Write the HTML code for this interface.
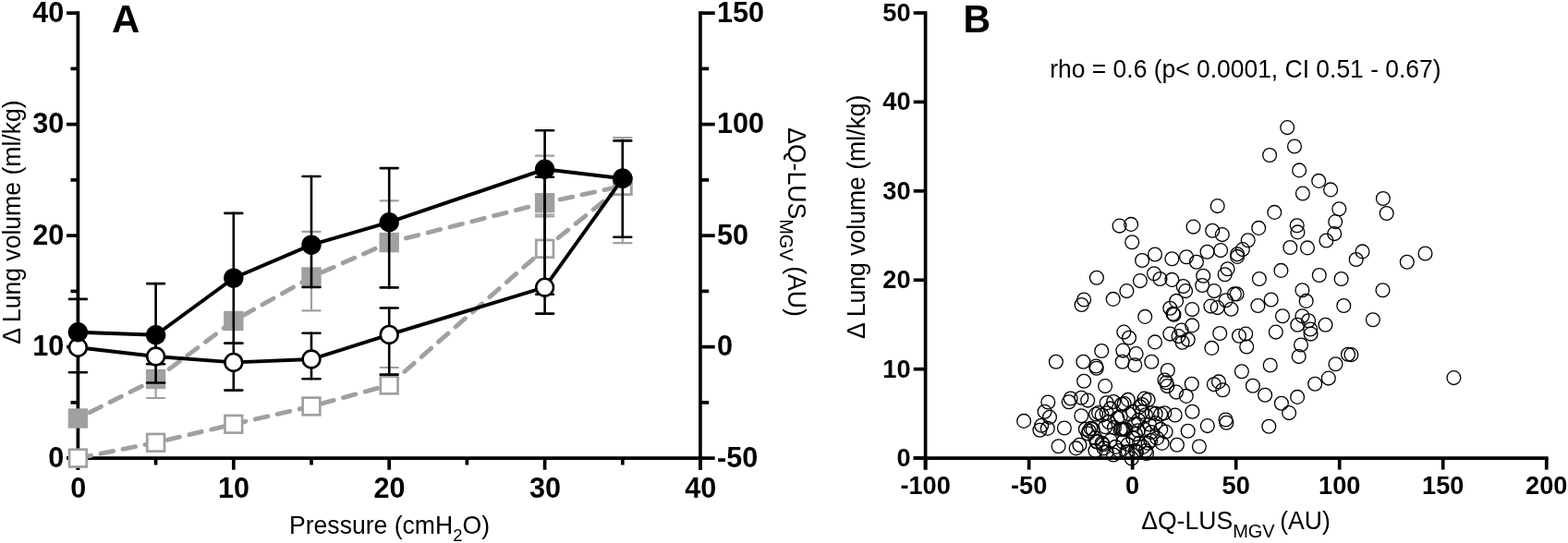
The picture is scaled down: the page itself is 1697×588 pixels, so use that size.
<!DOCTYPE html>
<html><head><meta charset="utf-8"><title>Figure</title>
<style>html,body{margin:0;padding:0;background:#fff;} svg{display:block;}</style>
</head><body>
<svg width="1697" height="588" viewBox="0 0 1697 588">
<rect width="1697" height="588" fill="#fff"/>
<g stroke="#000" stroke-width="3.7" fill="none" stroke-linecap="butt">
<line x1="84.4" y1="12.29" x2="84.4" y2="508.7"/>
<line x1="72" y1="496.1" x2="759.75" y2="496.1"/>
<line x1="757.9" y1="12.29" x2="757.9" y2="508.7"/>
<line x1="72" y1="496.1" x2="84.4" y2="496.1"/>
<line x1="72" y1="375.61" x2="84.4" y2="375.61"/>
<line x1="72" y1="255.12" x2="84.4" y2="255.12"/>
<line x1="72" y1="134.63" x2="84.4" y2="134.63"/>
<line x1="72" y1="14.14" x2="84.4" y2="14.14"/>
<line x1="76.5" y1="435.86" x2="84.4" y2="435.86"/>
<line x1="76.5" y1="315.37" x2="84.4" y2="315.37"/>
<line x1="76.5" y1="194.88" x2="84.4" y2="194.88"/>
<line x1="76.5" y1="74.39" x2="84.4" y2="74.39"/>
<line x1="757.9" y1="496.1" x2="773.7" y2="496.1"/>
<line x1="757.9" y1="375.61" x2="773.7" y2="375.61"/>
<line x1="757.9" y1="255.12" x2="773.7" y2="255.12"/>
<line x1="757.9" y1="134.63" x2="773.7" y2="134.63"/>
<line x1="757.9" y1="14.14" x2="773.7" y2="14.14"/>
<line x1="757.9" y1="435.86" x2="767.2" y2="435.86"/>
<line x1="757.9" y1="315.37" x2="767.2" y2="315.37"/>
<line x1="757.9" y1="194.88" x2="767.2" y2="194.88"/>
<line x1="757.9" y1="74.39" x2="767.2" y2="74.39"/>
<line x1="84.4" y1="496.1" x2="84.4" y2="508.7"/>
<line x1="252.8" y1="496.1" x2="252.8" y2="508.7"/>
<line x1="421.2" y1="496.1" x2="421.2" y2="508.7"/>
<line x1="589.6" y1="496.1" x2="589.6" y2="508.7"/>
<line x1="758" y1="496.1" x2="758" y2="508.7"/>
<line x1="168.6" y1="496.1" x2="168.6" y2="503.5"/>
<line x1="337" y1="496.1" x2="337" y2="503.5"/>
<line x1="505.4" y1="496.1" x2="505.4" y2="503.5"/>
<line x1="673.8" y1="496.1" x2="673.8" y2="503.5"/>
</g>
<g stroke="#a0a0a0" stroke-width="2.2" fill="none" stroke-linecap="round">
<line x1="168.6" y1="410.5" x2="168.6" y2="431"/>
<line x1="158.95" y1="410.5" x2="178.25" y2="410.5"/>
<line x1="158.95" y1="431" x2="178.25" y2="431"/>
<line x1="337" y1="250.8" x2="337" y2="336.3"/>
<line x1="327.35" y1="250.8" x2="346.65" y2="250.8"/>
<line x1="327.35" y1="336.3" x2="346.65" y2="336.3"/>
<line x1="421.2" y1="217.3" x2="421.2" y2="262.6"/>
<line x1="411.55" y1="217.3" x2="430.85" y2="217.3"/>
<line x1="411.55" y1="262.6" x2="430.85" y2="262.6"/>
<line x1="589.6" y1="168.7" x2="589.6" y2="232.5"/>
<line x1="579.95" y1="168.7" x2="599.25" y2="168.7"/>
<line x1="579.95" y1="232.5" x2="599.25" y2="232.5"/>
<line x1="673.8" y1="149.1" x2="673.8" y2="263.2"/>
<line x1="664.15" y1="149.1" x2="683.45" y2="149.1"/>
<line x1="664.15" y1="263.2" x2="683.45" y2="263.2"/>
</g>
<polyline points="84.4,453 168.6,410.5 252.8,347.5 337,300 421.2,262.6 589.6,219.7 673.8,201.3" fill="none" stroke="#a0a0a0" stroke-width="4.9" stroke-dasharray="13.85 10.7" stroke-dashoffset="-14.3" stroke-linecap="round"/>
<rect x="73.7" y="442.3" width="21.4" height="21.4" fill="#a0a0a0"/>
<rect x="157.9" y="399.8" width="21.4" height="21.4" fill="#a0a0a0"/>
<rect x="242.1" y="336.8" width="21.4" height="21.4" fill="#a0a0a0"/>
<rect x="326.3" y="289.3" width="21.4" height="21.4" fill="#a0a0a0"/>
<rect x="410.5" y="251.9" width="21.4" height="21.4" fill="#a0a0a0"/>
<rect x="578.9" y="209" width="21.4" height="21.4" fill="#a0a0a0"/>
<rect x="663.1" y="190.6" width="21.4" height="21.4" fill="#a0a0a0"/>
<g stroke="#a0a0a0" stroke-width="2.2" fill="none" stroke-linecap="round">
<line x1="421.2" y1="398" x2="421.2" y2="417"/>
<line x1="411.55" y1="398" x2="430.85" y2="398"/>
<line x1="411.55" y1="417" x2="430.85" y2="417"/>
<line x1="589.6" y1="234.5" x2="589.6" y2="269.3"/>
<line x1="579.95" y1="234.5" x2="599.25" y2="234.5"/>
<line x1="579.95" y1="269.3" x2="599.25" y2="269.3"/>
</g>
<polyline points="84.4,496.1 168.6,479.3 252.8,459.3 337,440 421.2,417 589.6,269.3 673.8,201.3" fill="none" stroke="#a0a0a0" stroke-width="4.9" stroke-dasharray="13.8 10.7" stroke-dashoffset="-0.6" stroke-linecap="round"/>
<rect x="75.05" y="486.75" width="18.7" height="18.7" fill="#fff" stroke="#a0a0a0" stroke-width="2.7"/>
<rect x="159.25" y="469.95" width="18.7" height="18.7" fill="#fff" stroke="#a0a0a0" stroke-width="2.7"/>
<rect x="243.45" y="449.95" width="18.7" height="18.7" fill="#fff" stroke="#a0a0a0" stroke-width="2.7"/>
<rect x="327.65" y="430.65" width="18.7" height="18.7" fill="#fff" stroke="#a0a0a0" stroke-width="2.7"/>
<rect x="411.85" y="407.65" width="18.7" height="18.7" fill="#fff" stroke="#a0a0a0" stroke-width="2.7"/>
<rect x="580.25" y="259.95" width="18.7" height="18.7" fill="#fff" stroke="#a0a0a0" stroke-width="2.7"/>
<rect x="664.45" y="191.95" width="18.7" height="18.7" fill="#fff" stroke="#a0a0a0" stroke-width="2.7"/>
<g stroke="#000" stroke-width="2.6" fill="none" stroke-linecap="round">
<line x1="84.4" y1="323.9" x2="84.4" y2="376.3"/>
<line x1="74.95" y1="323.9" x2="93.85" y2="323.9"/>
<line x1="74.95" y1="376.3" x2="93.85" y2="376.3"/>
<line x1="168.6" y1="307.1" x2="168.6" y2="394.3"/>
<line x1="159.15" y1="307.1" x2="178.05" y2="307.1"/>
<line x1="159.15" y1="394.3" x2="178.05" y2="394.3"/>
<line x1="252.8" y1="230.9" x2="252.8" y2="371.8"/>
<line x1="243.35" y1="230.9" x2="262.25" y2="230.9"/>
<line x1="243.35" y1="371.8" x2="262.25" y2="371.8"/>
<line x1="337" y1="191" x2="337" y2="311"/>
<line x1="327.55" y1="191" x2="346.45" y2="191"/>
<line x1="327.55" y1="311" x2="346.45" y2="311"/>
<line x1="421.2" y1="182.1" x2="421.2" y2="311.4"/>
<line x1="411.75" y1="182.1" x2="430.65" y2="182.1"/>
<line x1="411.75" y1="311.4" x2="430.65" y2="311.4"/>
<line x1="589.6" y1="141.2" x2="589.6" y2="318.8"/>
<line x1="580.15" y1="141.2" x2="599.05" y2="141.2"/>
<line x1="580.15" y1="318.8" x2="599.05" y2="318.8"/>
<line x1="673.8" y1="152.4" x2="673.8" y2="256.8"/>
<line x1="664.35" y1="152.4" x2="683.25" y2="152.4"/>
<line x1="664.35" y1="256.8" x2="683.25" y2="256.8"/>
</g>
<g stroke="#000" stroke-width="2.6" fill="none" stroke-linecap="round">
<line x1="84.4" y1="359.8" x2="84.4" y2="403.3"/>
<line x1="74.95" y1="359.8" x2="93.85" y2="359.8"/>
<line x1="74.95" y1="403.3" x2="93.85" y2="403.3"/>
<line x1="168.6" y1="362.7" x2="168.6" y2="414.5"/>
<line x1="159.15" y1="362.7" x2="178.05" y2="362.7"/>
<line x1="159.15" y1="414.5" x2="178.05" y2="414.5"/>
<line x1="252.8" y1="371.8" x2="252.8" y2="422.6"/>
<line x1="243.35" y1="371.8" x2="262.25" y2="371.8"/>
<line x1="243.35" y1="422.6" x2="262.25" y2="422.6"/>
<line x1="337" y1="360.8" x2="337" y2="410.3"/>
<line x1="327.55" y1="360.8" x2="346.45" y2="360.8"/>
<line x1="327.55" y1="410.3" x2="346.45" y2="410.3"/>
<line x1="421.2" y1="333.5" x2="421.2" y2="405.6"/>
<line x1="411.75" y1="333.5" x2="430.65" y2="333.5"/>
<line x1="411.75" y1="405.6" x2="430.65" y2="405.6"/>
<line x1="589.6" y1="191.7" x2="589.6" y2="339.6"/>
<line x1="580.15" y1="191.7" x2="599.05" y2="191.7"/>
<line x1="580.15" y1="339.6" x2="599.05" y2="339.6"/>
</g>
<polyline points="84.4,376.3 168.6,386 252.8,392.4 337,389 421.2,362.4 589.6,311.2 673.8,193.3" fill="none" stroke="#000" stroke-width="3.9"/>
<polyline points="84.4,359.8 168.6,362.7 252.8,301.1 337,265.1 421.2,240.7 589.6,183.3 673.8,193.3" fill="none" stroke="#000" stroke-width="3.9"/>
<circle cx="84.4" cy="376.3" r="9.4" fill="#fff" stroke="#000" stroke-width="2.6"/>
<circle cx="168.6" cy="386" r="9.4" fill="#fff" stroke="#000" stroke-width="2.6"/>
<circle cx="252.8" cy="392.4" r="9.4" fill="#fff" stroke="#000" stroke-width="2.6"/>
<circle cx="337" cy="389" r="9.4" fill="#fff" stroke="#000" stroke-width="2.6"/>
<circle cx="421.2" cy="362.4" r="9.4" fill="#fff" stroke="#000" stroke-width="2.6"/>
<circle cx="589.6" cy="311.2" r="9.4" fill="#fff" stroke="#000" stroke-width="2.6"/>
<circle cx="673.8" cy="193.3" r="9.4" fill="#fff" stroke="#000" stroke-width="2.6"/>
<circle cx="84.4" cy="359.8" r="10.7" fill="#000"/>
<circle cx="168.6" cy="362.7" r="10.7" fill="#000"/>
<circle cx="252.8" cy="301.1" r="10.7" fill="#000"/>
<circle cx="337" cy="265.1" r="10.7" fill="#000"/>
<circle cx="421.2" cy="240.7" r="10.7" fill="#000"/>
<circle cx="589.6" cy="183.3" r="10.7" fill="#000"/>
<circle cx="673.8" cy="193.3" r="10.7" fill="#000"/>
<text transform="translate(69.3,505.65) scale(1,1.035)" font-family="Liberation Sans, Arial, sans-serif" font-size="30.6" font-weight="bold" text-anchor="end">0</text>
<text transform="translate(69.3,385.16) scale(1,1.035)" font-family="Liberation Sans, Arial, sans-serif" font-size="30.6" font-weight="bold" text-anchor="end">10</text>
<text transform="translate(69.3,264.67) scale(1,1.035)" font-family="Liberation Sans, Arial, sans-serif" font-size="30.6" font-weight="bold" text-anchor="end">20</text>
<text transform="translate(69.3,144.18) scale(1,1.035)" font-family="Liberation Sans, Arial, sans-serif" font-size="30.6" font-weight="bold" text-anchor="end">30</text>
<text transform="translate(69.3,23.69) scale(1,1.035)" font-family="Liberation Sans, Arial, sans-serif" font-size="30.6" font-weight="bold" text-anchor="end">40</text>
<text transform="translate(84.7,538.7) scale(1,1.035)" font-family="Liberation Sans, Arial, sans-serif" font-size="30.6" font-weight="bold" text-anchor="middle">0</text>
<text transform="translate(253.1,538.7) scale(1,1.035)" font-family="Liberation Sans, Arial, sans-serif" font-size="30.6" font-weight="bold" text-anchor="middle">10</text>
<text transform="translate(421.5,538.7) scale(1,1.035)" font-family="Liberation Sans, Arial, sans-serif" font-size="30.6" font-weight="bold" text-anchor="middle">20</text>
<text transform="translate(589.9,538.7) scale(1,1.035)" font-family="Liberation Sans, Arial, sans-serif" font-size="30.6" font-weight="bold" text-anchor="middle">30</text>
<text transform="translate(758.3,538.7) scale(1,1.035)" font-family="Liberation Sans, Arial, sans-serif" font-size="30.6" font-weight="bold" text-anchor="middle">40</text>
<text transform="translate(776,23.69) scale(1,1.035)" font-family="Liberation Sans, Arial, sans-serif" font-size="30.6" font-weight="bold">150</text>
<text transform="translate(776,144.18) scale(1,1.035)" font-family="Liberation Sans, Arial, sans-serif" font-size="30.6" font-weight="bold">100</text>
<text transform="translate(776,264.67) scale(1,1.035)" font-family="Liberation Sans, Arial, sans-serif" font-size="30.6" font-weight="bold">50</text>
<text transform="translate(776,385.16) scale(1,1.035)" font-family="Liberation Sans, Arial, sans-serif" font-size="30.6" font-weight="bold">0</text>
<text transform="translate(776,505.65) scale(1,1.035)" font-family="Liberation Sans, Arial, sans-serif" font-size="30.6" font-weight="bold">-50</text>
<text transform="translate(121,35.4) scale(1,1.0)" font-family="Liberation Sans, Arial, sans-serif" font-size="42" font-weight="bold">A</text>
<text transform="translate(22.2,240.6) rotate(-90) scale(1,1.035)" font-family="Liberation Sans, Arial, sans-serif" font-size="26.6" text-anchor="middle">Δ Lung volume (ml/kg)</text>
<text transform="translate(853,240.5) rotate(90) scale(1,1.035)" font-family="Liberation Sans, Arial, sans-serif" font-size="26.6" text-anchor="middle">ΔQ-LUS<tspan font-size="20" dy="9">MGV </tspan><tspan dy="-9">(AU)</tspan></text>
<text transform="translate(421.5,577.5) scale(1,1.035)" font-family="Liberation Sans, Arial, sans-serif" font-size="26.6" text-anchor="middle">Pressure (cmH<tspan font-size="18.5" dy="8">2</tspan><tspan dy="-8">O)</tspan></text>
<g stroke="#000" stroke-width="3.7" fill="none">
<line x1="1001.6" y1="12.15" x2="1001.6" y2="508.6"/>
<line x1="988.7" y1="496.1" x2="1675.6" y2="496.1"/>
<line x1="988.7" y1="496.1" x2="1001.6" y2="496.1"/>
<line x1="988.7" y1="399.68" x2="1001.6" y2="399.68"/>
<line x1="988.7" y1="303.26" x2="1001.6" y2="303.26"/>
<line x1="988.7" y1="206.84" x2="1001.6" y2="206.84"/>
<line x1="988.7" y1="110.42" x2="1001.6" y2="110.42"/>
<line x1="988.7" y1="14" x2="1001.6" y2="14"/>
<line x1="1001.6" y1="496.1" x2="1001.6" y2="508.6"/>
<line x1="1113.62" y1="496.1" x2="1113.62" y2="508.6"/>
<line x1="1225.65" y1="496.1" x2="1225.65" y2="508.6"/>
<line x1="1337.67" y1="496.1" x2="1337.67" y2="508.6"/>
<line x1="1449.7" y1="496.1" x2="1449.7" y2="508.6"/>
<line x1="1561.72" y1="496.1" x2="1561.72" y2="508.6"/>
<line x1="1673.75" y1="496.1" x2="1673.75" y2="508.6"/>
</g>
<g fill="none" stroke="#000" stroke-width="1.3">
<circle cx="1393.2" cy="138.1" r="7.4"/>
<circle cx="1401" cy="158.5" r="7.4"/>
<circle cx="1374.1" cy="168" r="7.4"/>
<circle cx="1406.1" cy="184.4" r="7.4"/>
<circle cx="1427.2" cy="195.9" r="7.4"/>
<circle cx="1440.1" cy="205.4" r="7.4"/>
<circle cx="1409.9" cy="209.5" r="7.4"/>
<circle cx="1496.9" cy="215" r="7.4"/>
<circle cx="1500.7" cy="231" r="7.4"/>
<circle cx="1449.3" cy="226.2" r="7.4"/>
<circle cx="1317.7" cy="223.1" r="7.4"/>
<circle cx="1379.3" cy="229.9" r="7.4"/>
<circle cx="1445.2" cy="240.1" r="7.4"/>
<circle cx="1403.7" cy="244.2" r="7.4"/>
<circle cx="1404.4" cy="251.4" r="7.4"/>
<circle cx="1444.2" cy="253.1" r="7.4"/>
<circle cx="1435.4" cy="260.5" r="7.4"/>
<circle cx="1211.6" cy="244.6" r="7.4"/>
<circle cx="1224.1" cy="242.9" r="7.4"/>
<circle cx="1225.2" cy="262.2" r="7.4"/>
<circle cx="1291.5" cy="245.6" r="7.4"/>
<circle cx="1312.2" cy="249.7" r="7.4"/>
<circle cx="1322.8" cy="254.1" r="7.4"/>
<circle cx="1362.2" cy="246.9" r="7.4"/>
<circle cx="1350.7" cy="260.2" r="7.4"/>
<circle cx="1344.9" cy="270.1" r="7.4"/>
<circle cx="1339.1" cy="275.2" r="7.4"/>
<circle cx="1339.1" cy="277.9" r="7.4"/>
<circle cx="1321.1" cy="271.1" r="7.4"/>
<circle cx="1306.5" cy="272.8" r="7.4"/>
<circle cx="1284" cy="278.2" r="7.4"/>
<circle cx="1294.9" cy="283.7" r="7.4"/>
<circle cx="1268.4" cy="280.3" r="7.4"/>
<circle cx="1250" cy="275.5" r="7.4"/>
<circle cx="1236.1" cy="282" r="7.4"/>
<circle cx="1396.3" cy="268" r="7.4"/>
<circle cx="1415" cy="268.4" r="7.4"/>
<circle cx="1474.5" cy="272.4" r="7.4"/>
<circle cx="1467.7" cy="281" r="7.4"/>
<circle cx="1522.8" cy="283.7" r="7.4"/>
<circle cx="1542.5" cy="274.5" r="7.4"/>
<circle cx="1386.4" cy="292.9" r="7.4"/>
<circle cx="1328.6" cy="291.2" r="7.4"/>
<circle cx="1186.9" cy="300.8" r="7.4"/>
<circle cx="1233.9" cy="304.1" r="7.4"/>
<circle cx="1249" cy="296.3" r="7.4"/>
<circle cx="1255.5" cy="302" r="7.4"/>
<circle cx="1268.4" cy="302.9" r="7.4"/>
<circle cx="1280.6" cy="310" r="7.4"/>
<circle cx="1283.1" cy="315.1" r="7.4"/>
<circle cx="1219.4" cy="315.1" r="7.4"/>
<circle cx="1204.7" cy="323.9" r="7.4"/>
<circle cx="1173.1" cy="324.5" r="7.4"/>
<circle cx="1170.6" cy="330" r="7.4"/>
<circle cx="1273.1" cy="325.9" r="7.4"/>
<circle cx="1266.3" cy="333.7" r="7.4"/>
<circle cx="1269.5" cy="339.8" r="7.4"/>
<circle cx="1270.5" cy="340.8" r="7.4"/>
<circle cx="1290.2" cy="335.1" r="7.4"/>
<circle cx="1239.2" cy="342.9" r="7.4"/>
<circle cx="1290.2" cy="352.4" r="7.4"/>
<circle cx="1216.3" cy="359.6" r="7.4"/>
<circle cx="1222" cy="365.7" r="7.4"/>
<circle cx="1250" cy="370.4" r="7.4"/>
<circle cx="1266.3" cy="361.6" r="7.4"/>
<circle cx="1278.6" cy="357.6" r="7.4"/>
<circle cx="1275.5" cy="364.1" r="7.4"/>
<circle cx="1285.7" cy="367.8" r="7.4"/>
<circle cx="1279.6" cy="370.8" r="7.4"/>
<circle cx="1192.2" cy="380" r="7.4"/>
<circle cx="1215.3" cy="379.6" r="7.4"/>
<circle cx="1229.6" cy="383.1" r="7.4"/>
<circle cx="1142.9" cy="391.8" r="7.4"/>
<circle cx="1172.4" cy="391.8" r="7.4"/>
<circle cx="1186.2" cy="396.5" r="7.4"/>
<circle cx="1186.7" cy="398.8" r="7.4"/>
<circle cx="1214.7" cy="391.8" r="7.4"/>
<circle cx="1228.2" cy="395.3" r="7.4"/>
<circle cx="1246.3" cy="391.8" r="7.4"/>
<circle cx="1325.7" cy="297.3" r="7.4"/>
<circle cx="1302.2" cy="298.8" r="7.4"/>
<circle cx="1301.2" cy="309" r="7.4"/>
<circle cx="1314.1" cy="315.1" r="7.4"/>
<circle cx="1362.9" cy="302" r="7.4"/>
<circle cx="1427.8" cy="298" r="7.4"/>
<circle cx="1451.6" cy="302" r="7.4"/>
<circle cx="1496.5" cy="314.3" r="7.4"/>
<circle cx="1409.4" cy="314.3" r="7.4"/>
<circle cx="1413.7" cy="325.9" r="7.4"/>
<circle cx="1326.7" cy="325.3" r="7.4"/>
<circle cx="1335.9" cy="318.4" r="7.4"/>
<circle cx="1338.6" cy="318.4" r="7.4"/>
<circle cx="1375.7" cy="324.5" r="7.4"/>
<circle cx="1361.4" cy="331" r="7.4"/>
<circle cx="1310.4" cy="331.6" r="7.4"/>
<circle cx="1317.6" cy="333.1" r="7.4"/>
<circle cx="1332.4" cy="334.7" r="7.4"/>
<circle cx="1454.3" cy="331" r="7.4"/>
<circle cx="1388" cy="342.2" r="7.4"/>
<circle cx="1409.4" cy="342.2" r="7.4"/>
<circle cx="1416.1" cy="347.3" r="7.4"/>
<circle cx="1404.3" cy="351.8" r="7.4"/>
<circle cx="1418.2" cy="356.5" r="7.4"/>
<circle cx="1418.6" cy="361.6" r="7.4"/>
<circle cx="1434.5" cy="351.8" r="7.4"/>
<circle cx="1485.9" cy="346.3" r="7.4"/>
<circle cx="1320.2" cy="361" r="7.4"/>
<circle cx="1341" cy="363.7" r="7.4"/>
<circle cx="1348.2" cy="361.6" r="7.4"/>
<circle cx="1380.8" cy="359.6" r="7.4"/>
<circle cx="1349.2" cy="375.5" r="7.4"/>
<circle cx="1311.4" cy="376.9" r="7.4"/>
<circle cx="1408" cy="373.5" r="7.4"/>
<circle cx="1405.7" cy="386.1" r="7.4"/>
<circle cx="1459" cy="383.7" r="7.4"/>
<circle cx="1462.4" cy="384.1" r="7.4"/>
<circle cx="1445.5" cy="394.3" r="7.4"/>
<circle cx="1374.7" cy="395.5" r="7.4"/>
<circle cx="1173.1" cy="412.8" r="7.4"/>
<circle cx="1196.1" cy="418.1" r="7.4"/>
<circle cx="1134.3" cy="435.5" r="7.4"/>
<circle cx="1158.7" cy="431.5" r="7.4"/>
<circle cx="1156.8" cy="435.3" r="7.4"/>
<circle cx="1170.3" cy="430.8" r="7.4"/>
<circle cx="1177.2" cy="433.6" r="7.4"/>
<circle cx="1130.6" cy="445.8" r="7.4"/>
<circle cx="1136" cy="451.7" r="7.4"/>
<circle cx="1108.1" cy="455.9" r="7.4"/>
<circle cx="1170.3" cy="450.2" r="7.4"/>
<circle cx="1189" cy="447.1" r="7.4"/>
<circle cx="1192.7" cy="449.5" r="7.4"/>
<circle cx="1127.2" cy="460.7" r="7.4"/>
<circle cx="1133.8" cy="463.9" r="7.4"/>
<circle cx="1125.4" cy="465.8" r="7.4"/>
<circle cx="1151.9" cy="463.5" r="7.4"/>
<circle cx="1174.9" cy="464.8" r="7.4"/>
<circle cx="1178.7" cy="466.7" r="7.4"/>
<circle cx="1180.5" cy="463.9" r="7.4"/>
<circle cx="1177.4" cy="469.5" r="7.4"/>
<circle cx="1185.2" cy="474.2" r="7.4"/>
<circle cx="1187.1" cy="477.9" r="7.4"/>
<circle cx="1192.7" cy="479.8" r="7.4"/>
<circle cx="1145.6" cy="483.2" r="7.4"/>
<circle cx="1168.4" cy="481.7" r="7.4"/>
<circle cx="1164.6" cy="485.4" r="7.4"/>
<circle cx="1194.6" cy="485.4" r="7.4"/>
<circle cx="1263.8" cy="401" r="7.4"/>
<circle cx="1260.4" cy="411.5" r="7.4"/>
<circle cx="1262.3" cy="414.3" r="7.4"/>
<circle cx="1263.3" cy="418.1" r="7.4"/>
<circle cx="1289.8" cy="415.8" r="7.4"/>
<circle cx="1273" cy="424.6" r="7.4"/>
<circle cx="1283.8" cy="428.9" r="7.4"/>
<circle cx="1271.7" cy="449.5" r="7.4"/>
<circle cx="1290.4" cy="445.8" r="7.4"/>
<circle cx="1285.7" cy="466.7" r="7.4"/>
<circle cx="1273.9" cy="481.7" r="7.4"/>
<circle cx="1297.9" cy="483.5" r="7.4"/>
<circle cx="1197.7" cy="436.3" r="7.4"/>
<circle cx="1205.2" cy="435" r="7.4"/>
<circle cx="1220.8" cy="432.9" r="7.4"/>
<circle cx="1238.5" cy="431.6" r="7.4"/>
<circle cx="1242.6" cy="432.9" r="7.4"/>
<circle cx="1214" cy="437.7" r="7.4"/>
<circle cx="1216.7" cy="437" r="7.4"/>
<circle cx="1186.1" cy="448.6" r="7.4"/>
<circle cx="1197.7" cy="447.2" r="7.4"/>
<circle cx="1201.8" cy="442.4" r="7.4"/>
<circle cx="1209.3" cy="452.7" r="7.4"/>
<circle cx="1212.7" cy="451.3" r="7.4"/>
<circle cx="1222.2" cy="448.6" r="7.4"/>
<circle cx="1226.3" cy="445.9" r="7.4"/>
<circle cx="1233.7" cy="440.4" r="7.4"/>
<circle cx="1235.8" cy="445.9" r="7.4"/>
<circle cx="1239.9" cy="449.3" r="7.4"/>
<circle cx="1246.7" cy="447.2" r="7.4"/>
<circle cx="1250.7" cy="447.9" r="7.4"/>
<circle cx="1256.2" cy="448.6" r="7.4"/>
<circle cx="1260.3" cy="447.2" r="7.4"/>
<circle cx="1182.7" cy="464.9" r="7.4"/>
<circle cx="1196.3" cy="462.2" r="7.4"/>
<circle cx="1212.5" cy="465" r="7.4"/>
<circle cx="1214" cy="464.5" r="7.4"/>
<circle cx="1215.5" cy="465" r="7.4"/>
<circle cx="1217" cy="464.5" r="7.4"/>
<circle cx="1218.5" cy="465" r="7.4"/>
<circle cx="1205.9" cy="462.9" r="7.4"/>
<circle cx="1227.6" cy="459.5" r="7.4"/>
<circle cx="1231.7" cy="466.3" r="7.4"/>
<circle cx="1238.5" cy="464.9" r="7.4"/>
<circle cx="1243.9" cy="459.5" r="7.4"/>
<circle cx="1250.7" cy="458.1" r="7.4"/>
<circle cx="1256.2" cy="464.9" r="7.4"/>
<circle cx="1261.6" cy="467.6" r="7.4"/>
<circle cx="1186.8" cy="478.5" r="7.4"/>
<circle cx="1193.6" cy="481.2" r="7.4"/>
<circle cx="1201.8" cy="477.1" r="7.4"/>
<circle cx="1207.2" cy="483.9" r="7.4"/>
<circle cx="1215.4" cy="478.5" r="7.4"/>
<circle cx="1220.8" cy="481.2" r="7.4"/>
<circle cx="1226.3" cy="474.4" r="7.4"/>
<circle cx="1233.1" cy="479.9" r="7.4"/>
<circle cx="1237.1" cy="483.9" r="7.4"/>
<circle cx="1242.6" cy="479.9" r="7.4"/>
<circle cx="1245.3" cy="477.1" r="7.4"/>
<circle cx="1252.1" cy="474.4" r="7.4"/>
<circle cx="1257.6" cy="479.9" r="7.4"/>
<circle cx="1185.4" cy="488" r="7.4"/>
<circle cx="1197.7" cy="489.4" r="7.4"/>
<circle cx="1211.3" cy="488" r="7.4"/>
<circle cx="1220.8" cy="489.4" r="7.4"/>
<circle cx="1229" cy="488" r="7.4"/>
<circle cx="1239.9" cy="488" r="7.4"/>
<circle cx="1573.4" cy="409.1" r="7.4"/>
<circle cx="1437.8" cy="409.6" r="7.4"/>
<circle cx="1423.2" cy="415.8" r="7.4"/>
<circle cx="1313.9" cy="416.2" r="7.4"/>
<circle cx="1319" cy="413.4" r="7.4"/>
<circle cx="1323.3" cy="422.2" r="7.4"/>
<circle cx="1355.9" cy="417.7" r="7.4"/>
<circle cx="1369.1" cy="427.8" r="7.4"/>
<circle cx="1386.9" cy="436.8" r="7.4"/>
<circle cx="1404.1" cy="429.9" r="7.4"/>
<circle cx="1395.1" cy="447.1" r="7.4"/>
<circle cx="1326.5" cy="454.5" r="7.4"/>
<circle cx="1327.4" cy="457.7" r="7.4"/>
<circle cx="1306.8" cy="461.1" r="7.4"/>
<circle cx="1373.3" cy="461.7" r="7.4"/>
<circle cx="1343.9" cy="402.2" r="7.4"/>
<circle cx="1224.8" cy="496.5" r="7.4"/>
<circle cx="1219" cy="489.5" r="7.4"/>
<circle cx="1230" cy="489.5" r="7.4"/>
<circle cx="1200" cy="457" r="7.4"/>
<circle cx="1232" cy="455" r="7.4"/>
<circle cx="1246" cy="468" r="7.4"/>
<circle cx="1229" cy="470" r="7.4"/>
<circle cx="1241" cy="491" r="7.4"/>
<circle cx="1205" cy="492.5" r="7.4"/>
<circle cx="1236" cy="438" r="7.4"/>
</g>
<text transform="translate(985.6,505.1) scale(1,1.0)" font-family="Liberation Sans, Arial, sans-serif" font-size="27.2" font-weight="bold" text-anchor="end">0</text>
<text transform="translate(985.6,408.68) scale(1,1.0)" font-family="Liberation Sans, Arial, sans-serif" font-size="27.2" font-weight="bold" text-anchor="end">10</text>
<text transform="translate(985.6,312.26) scale(1,1.0)" font-family="Liberation Sans, Arial, sans-serif" font-size="27.2" font-weight="bold" text-anchor="end">20</text>
<text transform="translate(985.6,215.84) scale(1,1.0)" font-family="Liberation Sans, Arial, sans-serif" font-size="27.2" font-weight="bold" text-anchor="end">30</text>
<text transform="translate(985.6,119.42) scale(1,1.0)" font-family="Liberation Sans, Arial, sans-serif" font-size="27.2" font-weight="bold" text-anchor="end">40</text>
<text transform="translate(985.6,23) scale(1,1.0)" font-family="Liberation Sans, Arial, sans-serif" font-size="27.2" font-weight="bold" text-anchor="end">50</text>
<text transform="translate(1001.6,535.2) scale(1,1.0)" font-family="Liberation Sans, Arial, sans-serif" font-size="27.2" font-weight="bold" text-anchor="middle">-100</text>
<text transform="translate(1113.62,535.2) scale(1,1.0)" font-family="Liberation Sans, Arial, sans-serif" font-size="27.2" font-weight="bold" text-anchor="middle">-50</text>
<text transform="translate(1225.65,535.2) scale(1,1.0)" font-family="Liberation Sans, Arial, sans-serif" font-size="27.2" font-weight="bold" text-anchor="middle">0</text>
<text transform="translate(1337.67,535.2) scale(1,1.0)" font-family="Liberation Sans, Arial, sans-serif" font-size="27.2" font-weight="bold" text-anchor="middle">50</text>
<text transform="translate(1449.7,535.2) scale(1,1.0)" font-family="Liberation Sans, Arial, sans-serif" font-size="27.2" font-weight="bold" text-anchor="middle">100</text>
<text transform="translate(1561.72,535.2) scale(1,1.0)" font-family="Liberation Sans, Arial, sans-serif" font-size="27.2" font-weight="bold" text-anchor="middle">150</text>
<text transform="translate(1673.75,535.2) scale(1,1.0)" font-family="Liberation Sans, Arial, sans-serif" font-size="27.2" font-weight="bold" text-anchor="middle">200</text>
<text transform="translate(1042.5,35.4) scale(1,1.028)" font-family="Liberation Sans, Arial, sans-serif" font-size="41" font-weight="bold">B</text>
<text transform="translate(936.3,234.8) rotate(-90) scale(1,1.035)" font-family="Liberation Sans, Arial, sans-serif" font-size="26.6" text-anchor="middle">Δ Lung volume (ml/kg)</text>
<text transform="translate(1337.5,572.8) scale(1,1.035)" font-family="Liberation Sans, Arial, sans-serif" font-size="26.6" text-anchor="middle">ΔQ-LUS<tspan font-size="20" dy="8.7">MGV </tspan><tspan dy="-8.7">(AU)</tspan></text>
<text transform="translate(1347.9,84.2) scale(1,1.035)" font-family="Liberation Sans, Arial, sans-serif" font-size="26.46" text-anchor="middle">rho = 0.6 (p&lt; 0.0001, CI 0.51 - 0.67)</text>
</svg>
</body></html>
